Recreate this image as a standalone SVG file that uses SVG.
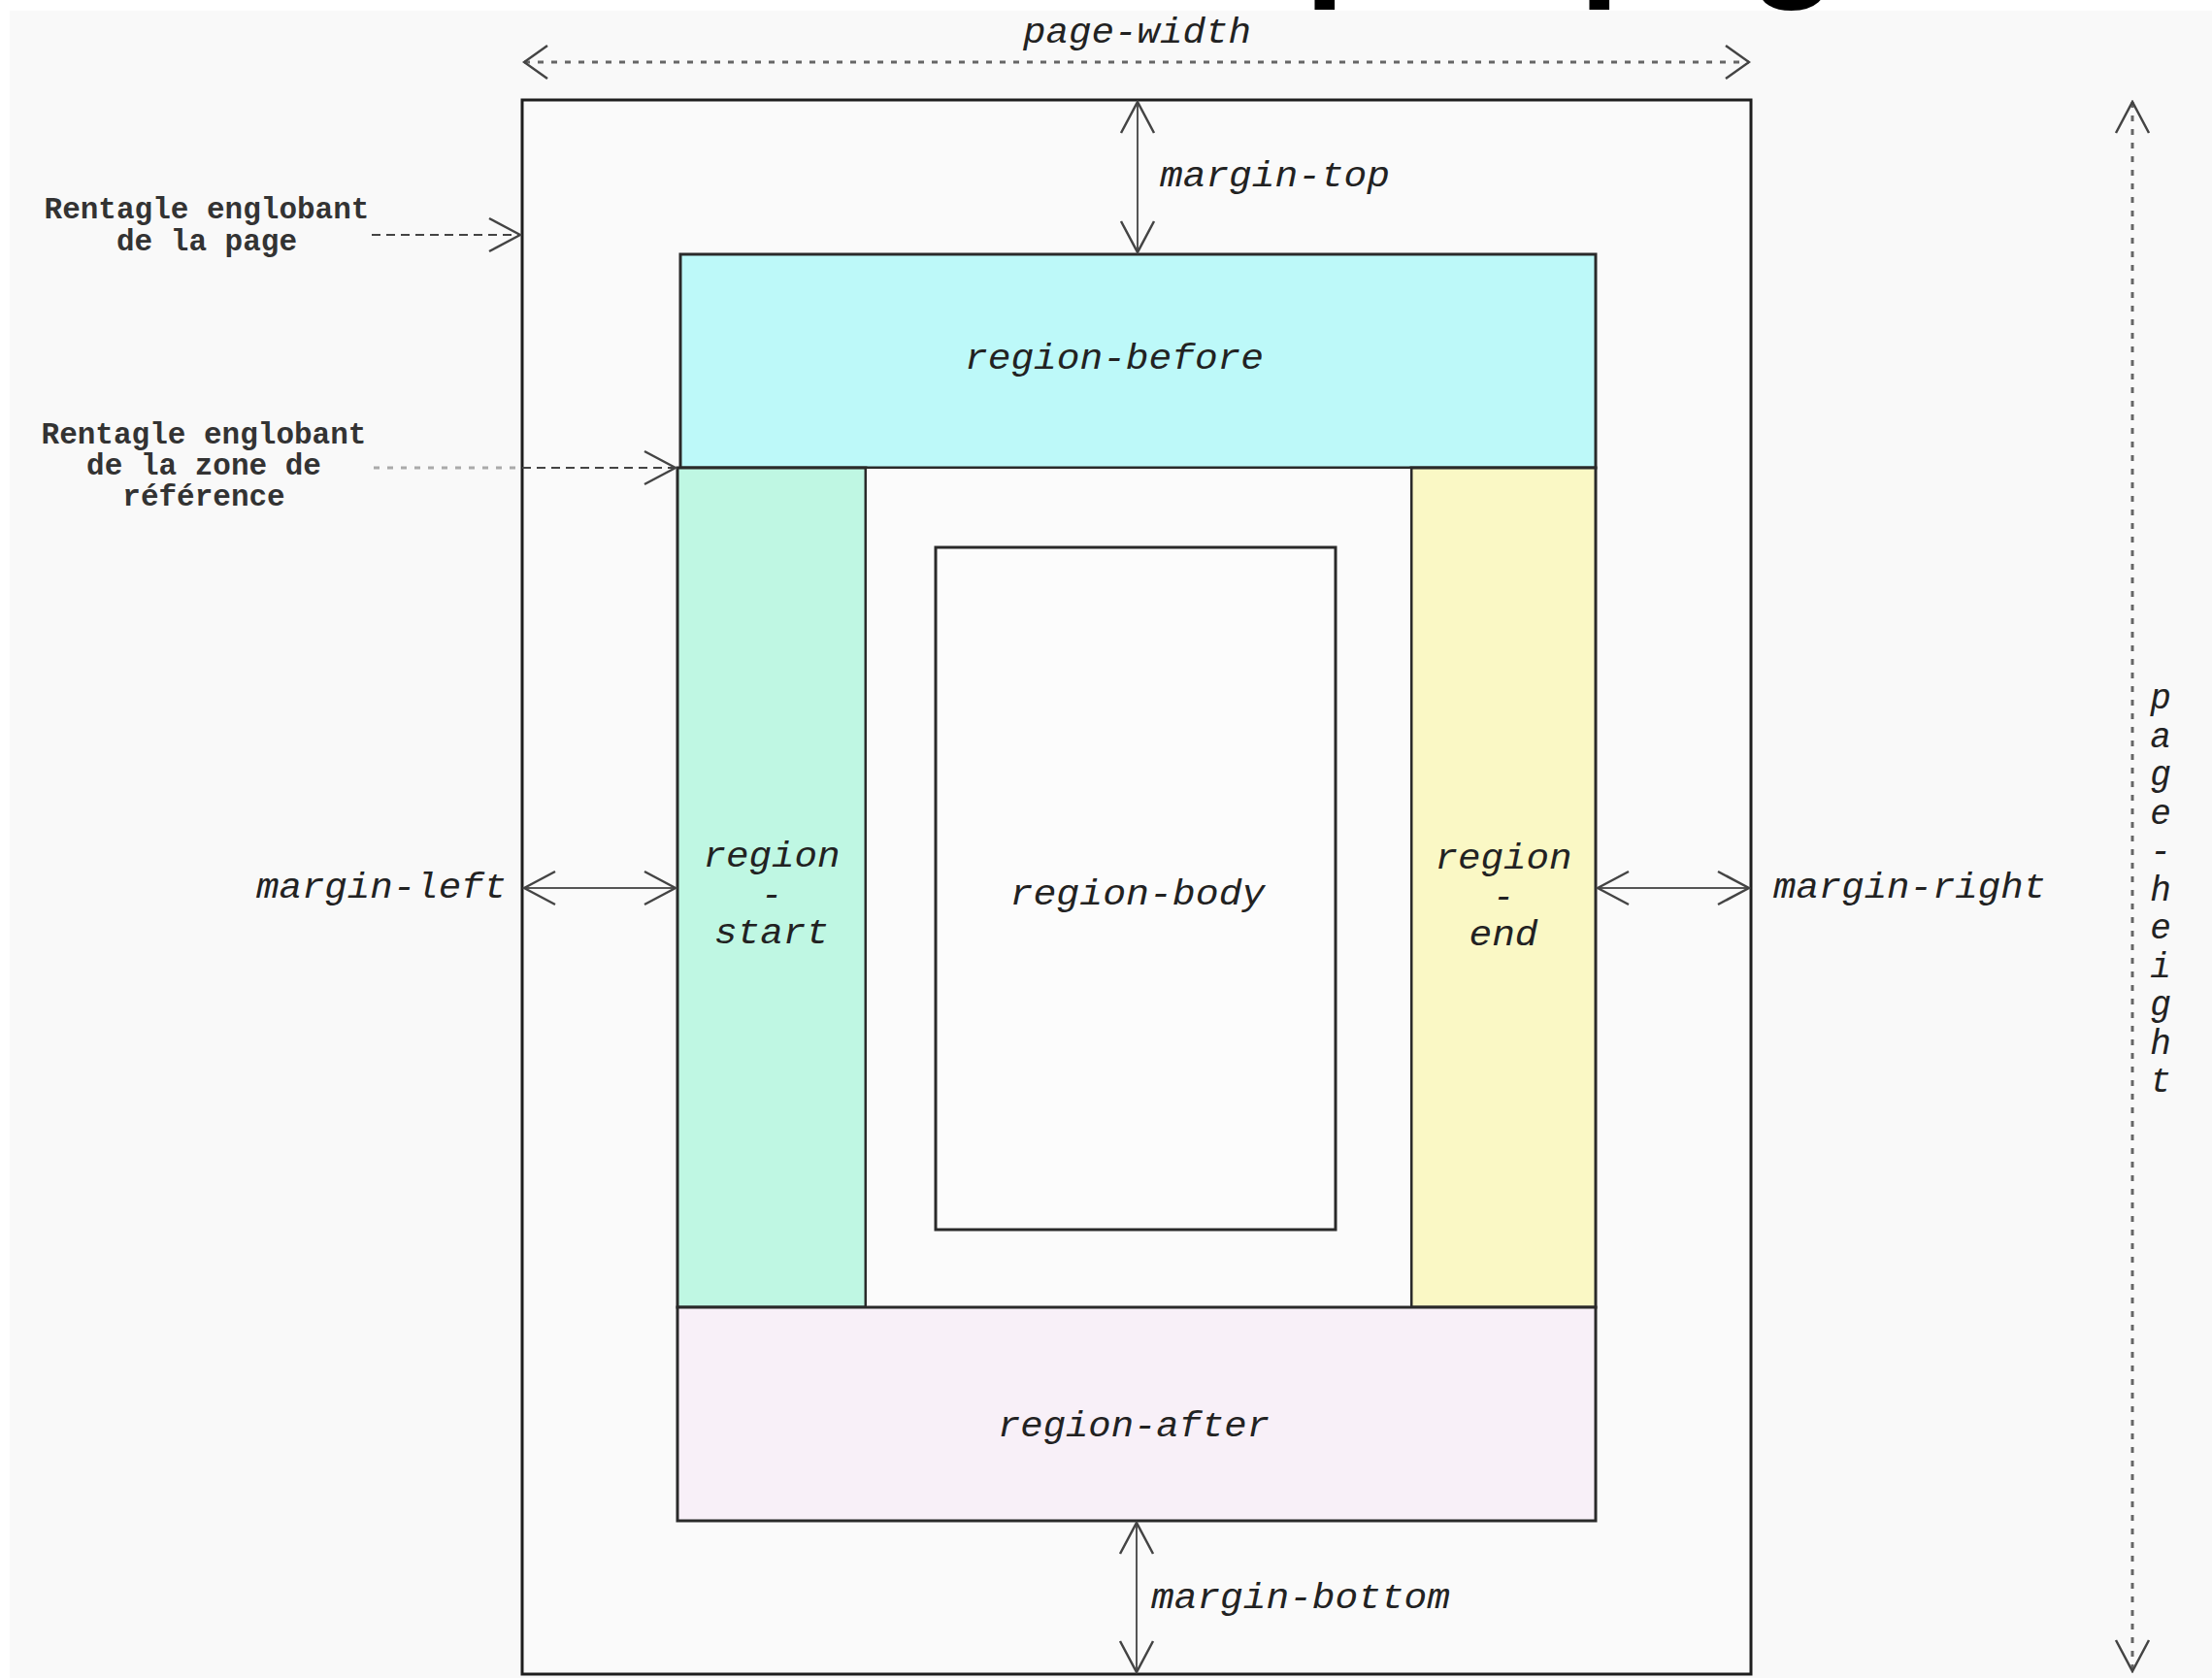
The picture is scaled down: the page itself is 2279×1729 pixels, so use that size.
<svg xmlns="http://www.w3.org/2000/svg" width="2279" height="1729" viewBox="0 0 2279 1729">
<style>
.lbl{font-family:"Liberation Mono","Courier New",monospace;font-style:italic;font-size:36px;fill:#222}
.mid{text-anchor:middle}
.note{font-family:"Liberation Mono","Courier New",monospace;font-weight:bold;font-size:31px;fill:#333;text-anchor:middle}
.big{font-family:"Liberation Sans",Arial,sans-serif;font-weight:bold;font-size:150px;fill:#000}
.reg{stroke:#2a2a2a;stroke-width:3}
.dim{stroke:#555;stroke-width:2;fill:none}
.dot{stroke:#666;stroke-width:3;stroke-dasharray:6 8;fill:none}
.dash{stroke:#444;stroke-width:2;stroke-dasharray:9 6;fill:none}
.ldot{stroke:#aaa;stroke-width:3;stroke-dasharray:6 8;fill:none}
.head{fill:none;stroke:#444;stroke-width:2.5;stroke-dasharray:none}
</style>
<defs>
<marker id="chev" viewBox="0 -19 36 38" markerWidth="36" markerHeight="38" refX="34" refY="0" orient="auto-start-reverse" markerUnits="userSpaceOnUse">
<path class="head" d="M2,-17 L34,0 L2,17"/>
</marker>
<marker id="chevs" viewBox="0 -19 30 38" markerWidth="30" markerHeight="38" refX="28" refY="0" orient="auto-start-reverse" markerUnits="userSpaceOnUse">
<path class="head" d="M4,-17 L28,0 L4,17"/>
</marker>
</defs>

<g id="heading">
<text class="big" x="1344" y="-21">p</text>
<text class="big" x="1627" y="-21">page</text>
</g>
<rect id="background" x="10" y="11" width="2269" height="1718" fill="#f9f9f9"/>

<g id="page">
<rect x="538" y="103" width="1266" height="1622" fill="#fafafa" stroke="#1e1e1e" stroke-width="3"/>
</g>
<g id="region-before">
<rect class="reg" x="701" y="262" width="943" height="220" fill="#bdf9f9"/>
<text class="lbl mid" x="1148" y="380" textLength="308" lengthAdjust="spacingAndGlyphs">region-before</text>
</g>
<g id="region-start">
<rect class="reg" x="698" y="482" width="194" height="865" fill="#bff7e3"/>
<text class="lbl mid" x="795" y="893" textLength="141" lengthAdjust="spacingAndGlyphs">region</text>
<text class="lbl mid" x="795" y="933">-</text>
<text class="lbl mid" x="795" y="972" textLength="118" lengthAdjust="spacingAndGlyphs">start</text>
</g>
<g id="region-end">
<rect class="reg" x="1454" y="482" width="190" height="865" fill="#faf8c5"/>
<text class="lbl mid" x="1549" y="895" textLength="141" lengthAdjust="spacingAndGlyphs">region</text>
<text class="lbl mid" x="1549" y="935">-</text>
<text class="lbl mid" x="1549" y="974" textLength="71" lengthAdjust="spacingAndGlyphs">end</text>
</g>
<g id="middle-area">
<rect x="892" y="482" width="562" height="865" fill="#fbfbfb" stroke="#2a2a2a" stroke-width="2"/>
</g>
<g id="region-body">
<rect class="reg" x="964" y="564" width="412" height="703" fill="#fcfcfc"/>
<text class="lbl mid" x="1172" y="932" textLength="263" lengthAdjust="spacingAndGlyphs">region-body</text>
</g>
<g id="region-after">
<rect class="reg" x="698" y="1347" width="946" height="220" fill="#f8f0f8"/>
<text class="lbl mid" x="1168" y="1480" textLength="280" lengthAdjust="spacingAndGlyphs">region-after</text>
</g>

<g id="labels">
<text class="lbl" x="1054" y="44" textLength="235" lengthAdjust="spacingAndGlyphs">page-width</text>
<text class="lbl" x="1195" y="192" textLength="237" lengthAdjust="spacingAndGlyphs">margin-top</text>
<text class="lbl" x="264" y="925" textLength="258" lengthAdjust="spacingAndGlyphs">margin-left</text>
<text class="lbl" x="1827" y="925" textLength="281" lengthAdjust="spacingAndGlyphs">margin-right</text>
<text class="lbl" x="1186" y="1657" textLength="308" lengthAdjust="spacingAndGlyphs">margin-bottom</text>
<text class="lbl mid" font-size="33">
<tspan x="2226" y="730">p</tspan><tspan x="2226" dy="39.5">a</tspan><tspan x="2226" dy="39.5">g</tspan><tspan x="2226" dy="39.5">e</tspan><tspan x="2226" dy="39.5">-</tspan><tspan x="2226" dy="39.5">h</tspan><tspan x="2226" dy="39.5">e</tspan><tspan x="2226" dy="39.5">i</tspan><tspan x="2226" dy="39.5">g</tspan><tspan x="2226" dy="39.5">h</tspan><tspan x="2226" dy="39.5">t</tspan>
</text>
<text class="note"><tspan x="213" y="225">Rentagle englobant</tspan><tspan x="213" y="258">de la page</tspan></text>
<text class="note"><tspan x="210" y="457">Rentagle englobant</tspan><tspan x="210" y="489">de la zone de</tspan><tspan x="210" y="521">référence</tspan></text>
</g>

<g id="connectors">
<path class="dot" d="M540,64 L1802,64" marker-start="url(#chevs)" marker-end="url(#chevs)"/>
<path class="dot" d="M2197,105 L2197,1722" marker-start="url(#chev)" marker-end="url(#chev)"/>
<path class="dim" d="M1172,105 L1172,260" marker-start="url(#chev)" marker-end="url(#chev)"/>
<path class="dim" d="M1171,1569 L1171,1723" marker-start="url(#chev)" marker-end="url(#chev)"/>
<path class="dim" d="M540,915 L696,915" marker-start="url(#chev)" marker-end="url(#chev)"/>
<path class="dim" d="M1646,915 L1802,915" marker-start="url(#chev)" marker-end="url(#chev)"/>
<path class="dash" d="M383,242 L536,242" marker-end="url(#chev)"/>
<path class="ldot" d="M385,482 L538,482"/>
<path class="dash" d="M538,482 L696,482" marker-end="url(#chev)"/>
</g>
</svg>
